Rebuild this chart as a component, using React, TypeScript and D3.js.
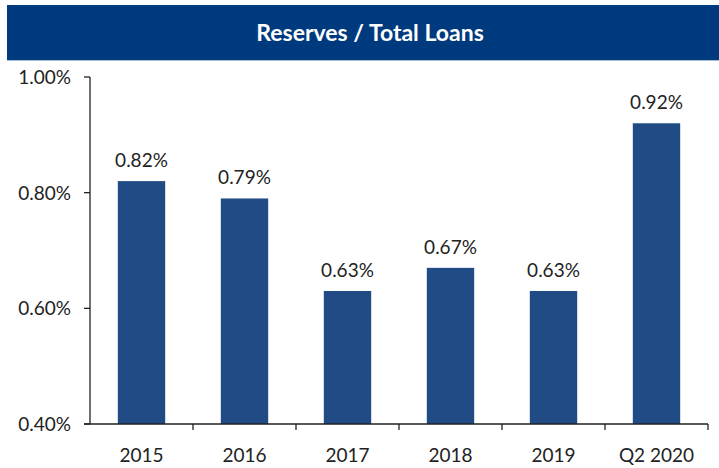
import React from "react";
import * as d3 from "d3";

const categories = ["2015", "2016", "2017", "2018", "2019", "Q2 2020"];
const values = [0.82, 0.79, 0.63, 0.67, 0.63, 0.92];
const yTicks = [0.4, 0.6, 0.8, 1.0];
const title = "Reserves / Total Loans";

const W = 719;
const H = 468;
const font = "Lato, 'Open Sans', sans-serif";

export default function App() {
  const left = 90;
  const right = 708;
  const top = 77;
  const bottom = 424;
  const x = d3.scaleBand<string>().domain(categories).range([left, right]).paddingInner(0.54).paddingOuter(0.27);
  const xb = d3.scaleBand<string>().domain(categories).range([left, right]);
  const y = d3.scaleLinear().domain([0.4, 1.0]).range([bottom, top]);

  return (
    <svg width={W} height={H} style={{ position: "absolute", left: 0, top: 0, background: "#fff" }}>
      <rect x={7} y={5} width={W - 7} height={55} fill="#003A7E" />
      <line x1={7} y1={60.5} x2={W} y2={60.5} stroke="#a9bcd6" strokeWidth={1} />
      <text x={370} y={41} textAnchor="middle" fill="#fff" fontFamily={font} fontWeight={700} fontSize={23}>
        {title}
      </text>
      {categories.map((c, i) => (
        <g key={c}>
          <rect x={x(c)} y={y(values[i])} width={x.bandwidth()} height={bottom - y(values[i])} fill="#214B84" />
          <text
            x={(x(c) as number) + x.bandwidth() / 2}
            y={y(values[i]) - 14}
            textAnchor="middle"
            fontFamily={font}
            fontSize={19}
            fill="#222"
          >
            {(values[i]).toFixed(2)}%
          </text>
          <text
            x={(xb(c) as number) + xb.bandwidth() / 2}
            y={462}
            textAnchor="middle"
            fontFamily={font}
            fontSize={19}
            fill="#222"
          >
            {c}
          </text>
        </g>
      ))}
      <line x1={left} y1={top} x2={left} y2={bottom} stroke="#222" strokeWidth={1.3} />
      <line x1={left - 6} y1={bottom} x2={right} y2={bottom} stroke="#222" strokeWidth={1.3} />
      {yTicks.map((t) => (
        <g key={t}>
          <line x1={left - 6} x2={left} y1={y(t)} y2={y(t)} stroke="#222" strokeWidth={1.3} />
          <text x={71} y={y(t) + 7} textAnchor="end" fontFamily={font} fontSize={19} fill="#222">
            {t.toFixed(2)}%
          </text>
        </g>
      ))}
      {categories.map((c) => (
        <line
          key={"t" + c}
          x1={(xb(c) as number) + xb.bandwidth()}
          x2={(xb(c) as number) + xb.bandwidth()}
          y1={bottom}
          y2={bottom + 6}
          stroke="#222"
          strokeWidth={1.3}
        />
      ))}
    </svg>
  );
}
